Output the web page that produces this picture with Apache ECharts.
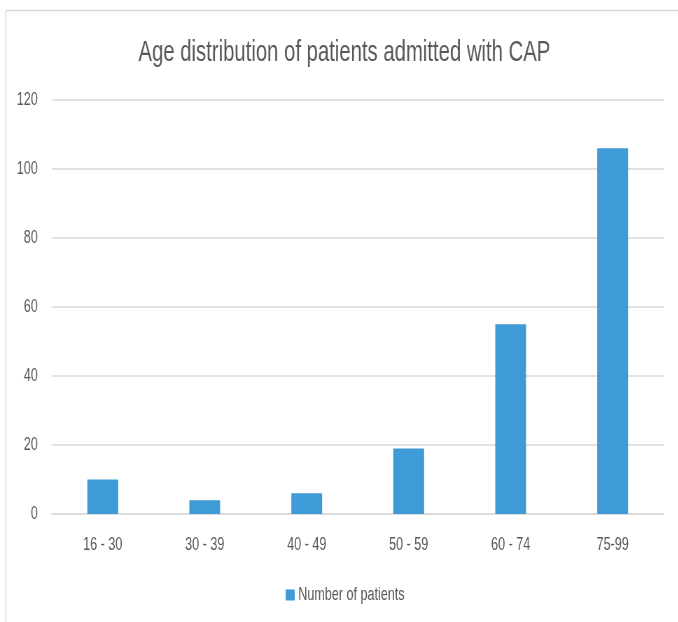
<!DOCTYPE html>
<html>
<head>
<meta charset="utf-8">
<script src="https://cdn.jsdelivr.net/npm/echarts@6/dist/echarts.min.js"></script>
<style>
  html, body { margin: 0; padding: 0; background: #ffffff; overflow: hidden; }
  #wrap { width: 678px; height: 622px; overflow: hidden; position: relative; }
  /* the chart is laid out wider and squeezed horizontally to give the narrow lettering */
  #chart { width: 969px; height: 622px; transform: scaleX(0.7); transform-origin: 0 0; }
</style>
</head>
<body>
<div id="wrap"><div id="chart"></div></div>
<script>
// Age groups and patient counts
const ageGroups = ['16 - 30', '30 - 39', '40 - 49', '50 - 59', '60 - 74', '75-99'];
const patientCounts = [10, 4, 6, 19, 55, 106];
const seriesName = 'Number of patients';
const chartTitle = 'Age distribution of patients admitted with CAP';

const FONT = "'Liberation Sans', Arial, sans-serif";
const TEXT_COLOR = '#595959';
const GRID_COLOR = '#d9d9d9';
const BAR_COLOR = '#3f9bd7';

const chart = echarts.init(document.getElementById('chart'), null, { renderer: 'canvas' });

chart.setOption({
  backgroundColor: '#ffffff',
  animation: false,
  title: {
    text: chartTitle,
    left: 487,
    top: 33,
    textAlign: 'center',
    textStyle: {
      fontFamily: FONT,
      fontSize: 29,
      fontWeight: 'normal',
      color: TEXT_COLOR
    }
  },
  graphic: [
    {
      type: 'rect',
      silent: true,
      z: -1,
      shape: { x: 8.5, y: 10.5, width: 1000, height: 700 },
      style: { fill: 'none', stroke: GRID_COLOR, lineWidth: 1.5 }
    }
  ],
  legend: {
    left: 403,
    top: 581,
    itemWidth: 13,
    itemHeight: 11,
    itemGap: 10,
    icon: 'rect',
    textStyle: { fontFamily: FONT, fontSize: 18, color: TEXT_COLOR },
    data: [seriesName]
  },
  grid: {
    left: 74,
    right: 21,
    top: 100,
    bottom: 108,
    containLabel: false
  },
  xAxis: {
    type: 'category',
    data: ageGroups,
    axisTick: { show: false },
    axisLine: { show: true, lineStyle: { color: GRID_COLOR, width: 1.5 } },
    axisLabel: {
      margin: 22,
      fontFamily: FONT,
      fontSize: 18,
      color: TEXT_COLOR
    }
  },
  yAxis: {
    type: 'value',
    min: 0,
    max: 120,
    interval: 20,
    axisLine: { show: false },
    axisTick: { show: false },
    splitLine: { lineStyle: { color: GRID_COLOR, width: 1.5 } },
    axisLabel: {
      margin: 20,
      fontFamily: FONT,
      fontSize: 18,
      color: TEXT_COLOR
    }
  },
  series: [
    {
      name: seriesName,
      type: 'bar',
      data: patientCounts,
      barWidth: 44,
      itemStyle: { color: BAR_COLOR }
    }
  ]
});
</script>
</body>
</html>
